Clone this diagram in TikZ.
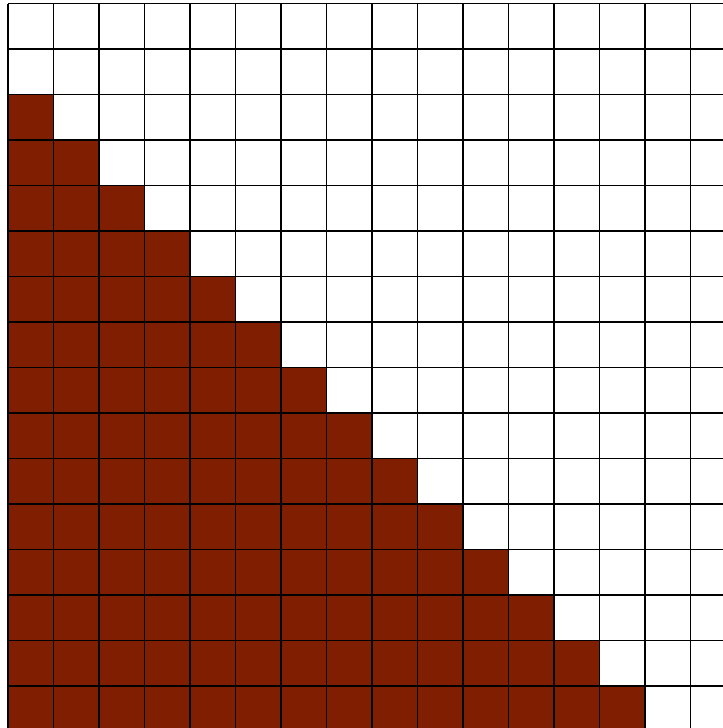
\documentclass[tikz,border=0pt]{standalone}
\definecolor{cellred}{RGB}{128,30,2}
\tikzset{gridline/.style={line width=1.1pt,black},filled/.style={fill=cellred}}
\begin{document}
\begin{tikzpicture}[x=0.75pt,y=-0.75pt]
\useasboundingbox (0,0) rectangle (723,728);
\clip (0,0) rectangle (723,728);
\def\s{45.5}
\def\ox{8}
\def\oy{3.5}
\foreach \r in {2,...,15}{
  \pgfmathtruncatemacro{\last}{\r-2}
  \foreach \c in {0,...,\last}{
    \fill[filled] (\ox+\c*\s,\oy+\r*\s) rectangle (\ox+\c*\s+\s,\oy+\r*\s+\s);
  }
}
\foreach \i in {0,...,16}{
  \draw[gridline] (\ox+\i*\s,\oy) -- (\ox+\i*\s,740);
  \draw[gridline] (\ox,\oy+\i*\s) -- (740,\oy+\i*\s);
}
\end{tikzpicture}
\end{document}
